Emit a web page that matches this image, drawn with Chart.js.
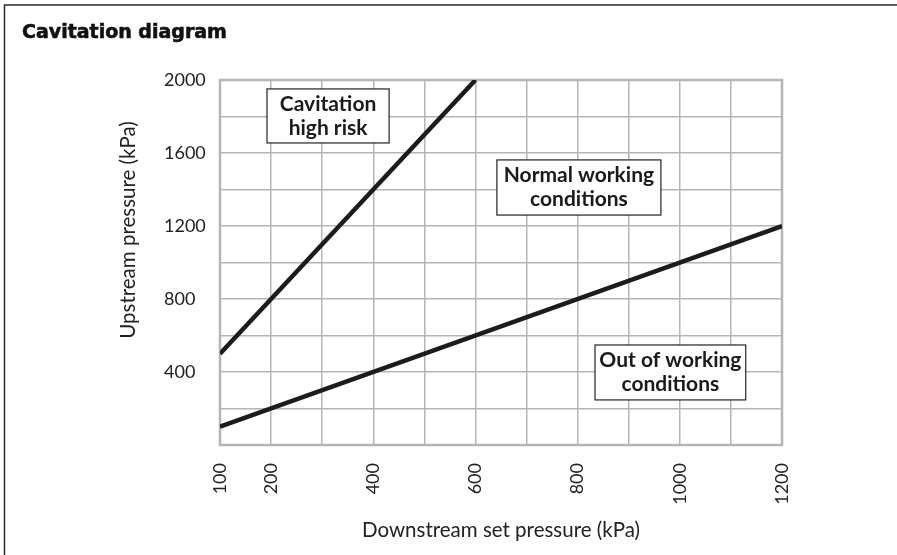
<!DOCTYPE html>
<html>
<head>
<meta charset="utf-8">
<title>Cavitation diagram</title>
<script src="https://cdn.jsdelivr.net/npm/chart.js@4.4.1/dist/chart.umd.min.js"></script>
<style>
    html, body { margin: 0; padding: 0; background: #fff; }
    #wrap { width: 897px; height: 555px; position: relative; }
</style>
</head>
<body>
<div id="wrap"><canvas id="cavitation"></canvas></div>
<script>
// cavitation limit line
const cavDownstream = [100, 600];
const cavUpstream = [500, 2000];
// lower working limit line
const workDownstream = [100, 1200];
const workUpstream = [100, 1200];

// labelled ticks (grid is every 100 / 200)
const xLabelTicks = [100, 200, 400, 600, 800, 1000, 1200];
const yLabelTicks = [400, 800, 1200, 1600, 2000];

const yTitle = 'Upstream pressure (kPa)';
const xTitle = 'Downstream set pressure (kPa)';

// zone labels, boxes given in data units
const zoneText = [
    ['Cavitation', 'high risk'],
    ['Normal working', 'conditions'],
    ['Out of working', 'conditions'],
];
const zoneBoxes = [
    { x1: 192, x2: 431, y1: 1951, y2: 1655 },
    { x1: 642, x2: 963, y1: 1562, y2: 1260 },
    { x1: 834, x2: 1129, y1: 548, y2: 247 },
];

const FONT = 'Lato, "Open Sans", sans-serif';
const GRID = '#b5b5b5';
const INK = '#1c1c1c';
const TEXT = '#222';

const toPoints = (xs, ys) => xs.map((x, i) => ({ x: x, y: ys[i] }));

const framePlugin = {
    id: 'frame',
    beforeDraw(chart) {
        const ctx = chart.ctx;
        ctx.save();
        ctx.fillStyle = '#fff';
        ctx.fillRect(0, 0, chart.width, chart.height);
        ctx.strokeStyle = '#2b2b2b';
        ctx.lineWidth = 1.5;
        ctx.beginPath();
        ctx.moveTo(4.5, chart.height);
        ctx.lineTo(4.5, 5);
        ctx.lineTo(chart.width, 5);
        ctx.stroke();
        // heading
        ctx.fillStyle = '#111';
        ctx.strokeStyle = '#111';
        ctx.lineWidth = 0.6;
        ctx.font = 'bold 19px "DejaVu Sans"';
        ctx.textBaseline = 'alphabetic';
        ctx.fillText('Cavitation diagram', 22, 38);
        ctx.strokeText('Cavitation diagram', 22, 38);
        // y axis title, sits a bit above the plot centre
        ctx.translate(128, 230);
        ctx.rotate(-Math.PI / 2);
        ctx.fillStyle = TEXT;
        ctx.font = '20.5px ' + FONT;
        ctx.textAlign = 'center';
        ctx.textBaseline = 'middle';
        ctx.fillText(yTitle, 0, 0);
        ctx.restore();
    },
    beforeDatasetsDraw(chart) {
        const { ctx, chartArea: a } = chart;
        ctx.save();
        ctx.strokeStyle = GRID;
        ctx.lineWidth = 2.5;
        ctx.strokeRect(a.left, a.top, a.right - a.left, a.bottom - a.top);
        ctx.restore();
    },
    afterDatasetsDraw(chart) {
        const ctx = chart.ctx;
        const xs = chart.scales.x, ys = chart.scales.y;
        ctx.save();
        zoneBoxes.forEach((b, i) => {
            const l = xs.getPixelForValue(b.x1), r = xs.getPixelForValue(b.x2);
            const t = ys.getPixelForValue(b.y1), bt = ys.getPixelForValue(b.y2);
            ctx.fillStyle = '#fff';
            ctx.fillRect(l, t, r - l, bt - t);
            ctx.strokeStyle = '#222';
            ctx.lineWidth = 1.2;
            ctx.strokeRect(l, t, r - l, bt - t);
            ctx.fillStyle = '#1a1a1a';
            ctx.font = 'bold 21px ' + FONT;
            ctx.textAlign = 'center';
            ctx.textBaseline = 'middle';
            const cx = (l + r) / 2, cy = (t + bt) / 2;
            const lines = zoneText[i];
            lines.forEach((s, k) => {
                ctx.fillText(s, cx, cy + (k - (lines.length - 1) / 2) * 24);
            });
        });
        ctx.restore();
    }
};

new Chart(document.getElementById('cavitation'), {
    type: 'scatter',
    data: {
        datasets: [
            {
                label: 'Cavitation limit',
                data: toPoints(cavDownstream, cavUpstream),
                showLine: true,
                borderColor: INK,
                borderWidth: 4.5,
                pointRadius: 0,
            },
            {
                label: 'Working limit',
                data: toPoints(workDownstream, workUpstream),
                showLine: true,
                borderColor: INK,
                borderWidth: 4.5,
                pointRadius: 0,
            },
        ],
    },
    options: {
        responsive: true,
        maintainAspectRatio: false,
        animation: false,
        layout: { padding: { left: 164, right: 115, top: 80, bottom: 0 } },
        plugins: {
            legend: { display: false },
            tooltip: { enabled: false },
        },
        scales: {
            x: {
                type: 'linear',
                min: 100,
                max: 1200,
                afterFit: (s) => { s.height = 110; },
                grid: { color: GRID, lineWidth: 1.5, drawTicks: false },
                border: { display: false },
                ticks: {
                    stepSize: 100,
                    autoSkip: false,
                    minRotation: 90,
                    maxRotation: 90,
                    padding: 18,
                    color: TEXT,
                    font: { family: FONT, size: 18 },
                    callback: (v) => xLabelTicks.includes(v) ? String(v) : '',
                },
                title: {
                    display: true,
                    text: xTitle,
                    color: TEXT,
                    font: { family: FONT, size: 20.5 },
                    padding: { top: 0, bottom: 12 },
                },
            },
            y: {
                min: 0,
                max: 2000,
                afterFit: (s) => { s.width = 56; },
                grid: { color: GRID, lineWidth: 1.5, drawTicks: false },
                border: { display: false },
                ticks: {
                    stepSize: 200,
                    crossAlign: 'far',
                    color: TEXT,
                    font: { family: FONT, size: 18 },
                    callback: (v) => yLabelTicks.includes(v) ? String(v) : '',
                },
                title: { display: false },
            },
        },
    },
    plugins: [framePlugin],
});
</script>
</body>
</html>
